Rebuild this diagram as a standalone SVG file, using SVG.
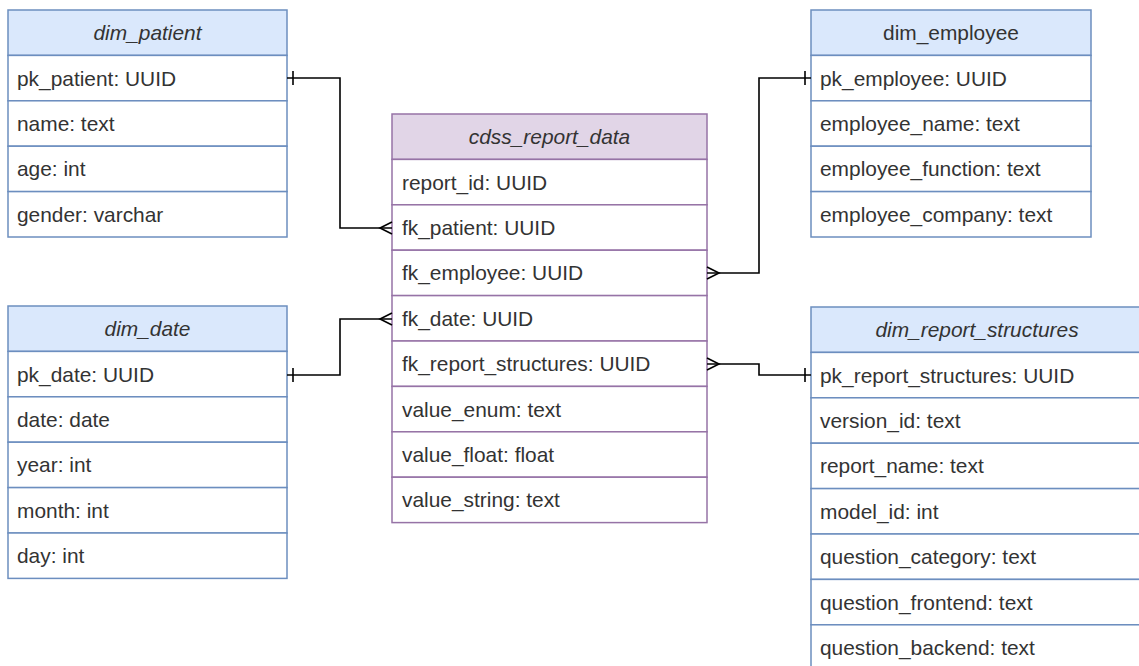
<svg xmlns="http://www.w3.org/2000/svg" width="1139" height="666" viewBox="0 0 1139 666">
<style>
.bh{fill:#dae8fc;stroke:#6c8ebf;stroke-width:1.5}
.br{fill:#ffffff;stroke:#6c8ebf;stroke-width:1.5}
.ph{fill:#e1d5e7;stroke:#9673a6;stroke-width:1.5}
.pr{fill:#ffffff;stroke:#9673a6;stroke-width:1.5}
text{font-family:"Liberation Sans",Arial,sans-serif;font-size:20.9px;fill:#333333}
.h{text-anchor:middle}
.i{font-style:italic}
.c{fill:none;stroke:#000000;stroke-width:1.6}
</style>
<rect width="1139" height="666" fill="#ffffff"/>

<g id="dim_patient">
<rect class="bh" x="8" y="10" width="279" height="45.4"/>
<rect class="br" x="8" y="55.4" width="279" height="45.4"/>
<rect class="br" x="8" y="100.8" width="279" height="45.4"/>
<rect class="br" x="8" y="146.2" width="279" height="45.4"/>
<rect class="br" x="8" y="191.6" width="279" height="45.4"/>
<text class="h i" x="147.5" y="40">dim_patient</text>
<text x="17" y="85.5">pk_patient: UUID</text>
<text x="17" y="131">name: text</text>
<text x="17" y="176.4">age: int</text>
<text x="17" y="221.8">gender: varchar</text>
</g>

<g id="dim_employee">
<rect class="bh" x="811" y="10" width="280" height="45.4"/>
<rect class="br" x="811" y="55.4" width="280" height="45.4"/>
<rect class="br" x="811" y="100.8" width="280" height="45.4"/>
<rect class="br" x="811" y="146.2" width="280" height="45.4"/>
<rect class="br" x="811" y="191.6" width="280" height="45.4"/>
<text class="h" x="951" y="40">dim_employee</text>
<text x="820" y="85.5">pk_employee: UUID</text>
<text x="820" y="131">employee_name: text</text>
<text x="820" y="176.4">employee_function: text</text>
<text x="820" y="221.8">employee_company: text</text>
</g>

<g id="cdss_report_data">
<rect class="ph" x="392" y="114" width="315" height="45.4"/>
<rect class="pr" x="392" y="159.4" width="315" height="45.4"/>
<rect class="pr" x="392" y="204.8" width="315" height="45.4"/>
<rect class="pr" x="392" y="250.2" width="315" height="45.4"/>
<rect class="pr" x="392" y="295.6" width="315" height="45.4"/>
<rect class="pr" x="392" y="341" width="315" height="45.4"/>
<rect class="pr" x="392" y="386.4" width="315" height="45.4"/>
<rect class="pr" x="392" y="431.8" width="315" height="45.4"/>
<rect class="pr" x="392" y="477.2" width="315" height="45.4"/>
<text class="h i" x="549.5" y="144">cdss_report_data</text>
<text x="402" y="189.5">report_id: UUID</text>
<text x="402" y="235">fk_patient: UUID</text>
<text x="402" y="280.4">fk_employee: UUID</text>
<text x="402" y="325.8">fk_date: UUID</text>
<text x="402" y="371.2">fk_report_structures: UUID</text>
<text x="402" y="416.6">value_enum: text</text>
<text x="402" y="462">value_float: float</text>
<text x="402" y="507.4">value_string: text</text>
</g>

<g id="dim_date">
<rect class="bh" x="8" y="306" width="279" height="45.4"/>
<rect class="br" x="8" y="351.4" width="279" height="45.4"/>
<rect class="br" x="8" y="396.8" width="279" height="45.4"/>
<rect class="br" x="8" y="442.2" width="279" height="45.4"/>
<rect class="br" x="8" y="487.6" width="279" height="45.4"/>
<rect class="br" x="8" y="533" width="279" height="45.4"/>
<text class="h i" x="147.5" y="336">dim_date</text>
<text x="17" y="381.5">pk_date: UUID</text>
<text x="17" y="427">date: date</text>
<text x="17" y="472.4">year: int</text>
<text x="17" y="517.8">month: int</text>
<text x="17" y="563.2">day: int</text>
</g>

<g id="dim_report_structures">
<rect class="bh" x="811" y="307" width="332" height="45.4"/>
<rect class="br" x="811" y="352.4" width="332" height="45.4"/>
<rect class="br" x="811" y="397.8" width="332" height="45.4"/>
<rect class="br" x="811" y="443.2" width="332" height="45.4"/>
<rect class="br" x="811" y="488.6" width="332" height="45.4"/>
<rect class="br" x="811" y="534" width="332" height="45.4"/>
<rect class="br" x="811" y="579.4" width="332" height="45.4"/>
<rect class="br" x="811" y="624.8" width="332" height="45.4"/>
<text class="h i" x="977" y="337">dim_report_structures</text>
<text x="820" y="382.5">pk_report_structures: UUID</text>
<text x="820" y="428">version_id: text</text>
<text x="820" y="473.4">report_name: text</text>
<text x="820" y="518.8">model_id: int</text>
<text x="820" y="564.2">question_category: text</text>
<text x="820" y="609.6">question_frontend: text</text>
<text x="820" y="655">question_backend: text</text>
</g>

<g id="connectors">
<!-- patient -->
<path class="c" d="M287 78 H340 V228 H392"/>
<path class="c" d="M293 71 V85"/>
<path class="c" d="M392 222 L380 228 L392 234"/>
<!-- date -->
<path class="c" d="M287 375 H340 V319 H392"/>
<path class="c" d="M293 368 V382"/>
<path class="c" d="M392 313 L380 319 L392 325"/>
<!-- employee -->
<path class="c" d="M707 273 H759 V78 H811"/>
<path class="c" d="M805 71 V85"/>
<path class="c" d="M707 267 L719 273 L707 279"/>
<!-- report structures -->
<path class="c" d="M707 364 H759 V375 H811"/>
<path class="c" d="M805 368 V382"/>
<path class="c" d="M707 358 L719 364 L707 370"/>
</g>
</svg>
